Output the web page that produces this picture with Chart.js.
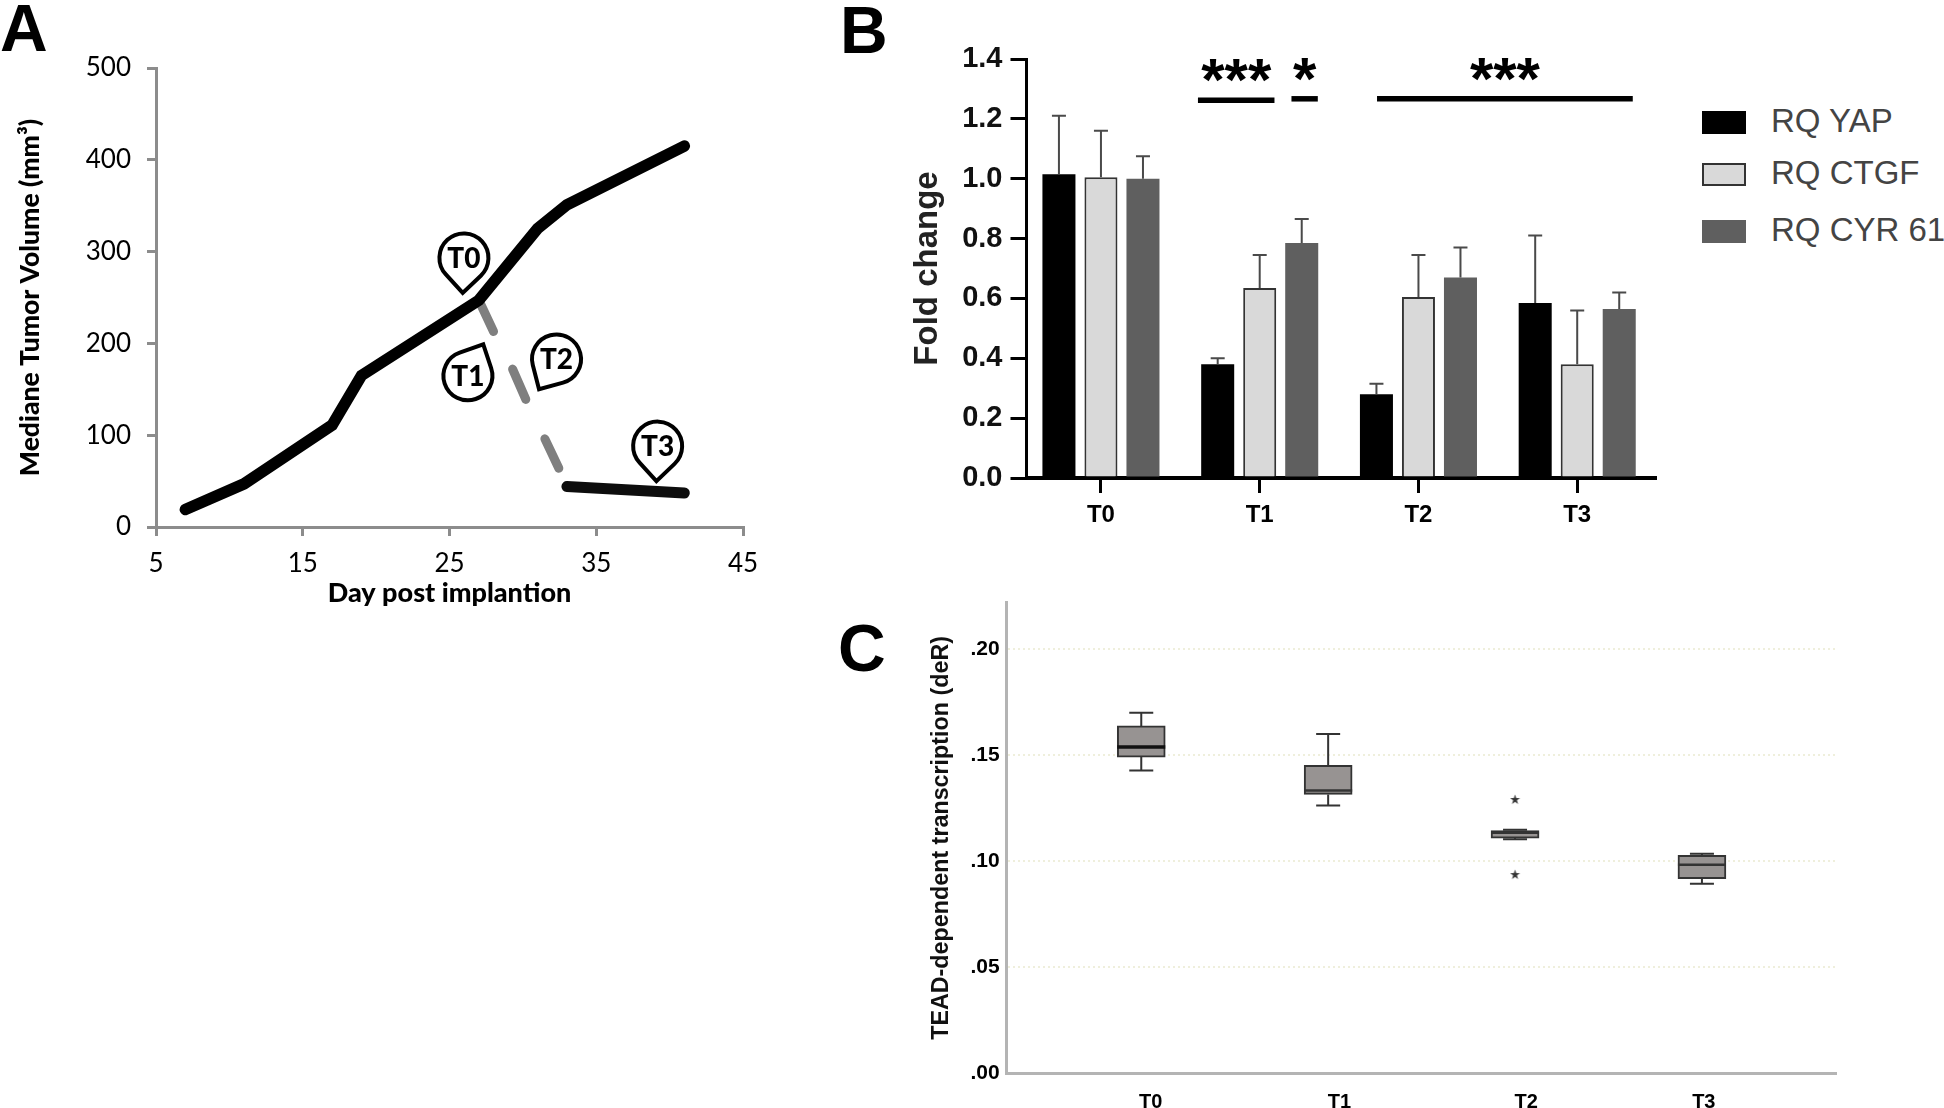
<!DOCTYPE html>
<html>
<head>
<meta charset="utf-8">
<title>Tumor volume and YAP/TEAD activity</title>
<script src="https://cdn.jsdelivr.net/npm/chart.js@4/dist/chart.umd.js"></script>
<style>
  body { margin: 0; background: #fff; width: 1944px; height: 1108px; overflow: hidden; position: relative; }
  canvas { position: absolute; }
  .panel { position: absolute; font: bold 66px "Liberation Sans"; line-height: 62px; color: #000; }
  .swatch { position: absolute; left: 1702px; width: 44px; height: 23px; box-sizing: border-box; }
  .legend-text { position: absolute; left: 1771px; font: 33px "Liberation Sans"; line-height: 32px; color: #444; white-space: nowrap; }
</style>
</head>
<body>
<div class="panel" style="left:0;top:-3px">A</div>
<div class="panel" style="left:840px;top:-1px">B</div>
<div class="panel" style="left:838px;top:617px">C</div>
<canvas id="chartA" width="800" height="620" style="left:0;top:0"></canvas>
<canvas id="chartB" width="860" height="540" style="left:820px;top:0"></canvas>
<canvas id="chartC" width="1040" height="548" style="left:820px;top:560px"></canvas>
<div id="legendB"></div>
<script>
//. Panel A data
const growthDays = [7, 11, 17, 19, 27, 31, 33, 41];
const growthVolume = [19, 47, 111, 165, 247, 325, 351, 415];
const treatedDays = [33, 41];
const treatedVolume = [44, 37];
const dashDays = [[27, 28], [29.3, 30.2], [31.5, 32.45]];
const dashVolume = [[247, 213], [172, 139], [96, 64]];
const pinLabels = ["T0", "T1", "T2", "T3"];
const pinDays = [25.9, 27.3, 31.1, 39.1];
const pinVolume = [255, 199, 150, 50];
const pinAngles = [92, -64, 120, 92];

//. Panel B data
const timeLabels = ["T0", "T1", "T2", "T3"];
const timeIndex = [0, 1, 2, 3];
const seriesNames = ["RQ YAP", "RQ CTGF", "RQ CYR 61"];
const yapValues = [1.015, 0.38, 0.28, 0.585];
const ctgfValues = [1.005, 0.635, 0.605, 0.38];
const cyrValues = [1.0, 0.785, 0.67, 0.565];
const yapUpper = [1.21, 0.4, 0.315, 0.81];
const ctgfUpper = [1.16, 0.745, 0.745, 0.56];
const cyrUpper = [1.075, 0.865, 0.77, 0.62];
const sigStart = [0.611, 1.2, 1.739];
const sigEnd = [1.093, 1.366, 3.35];
const sigLevel = [1.262, 1.267, 1.267];
const sigStars = ["***", "*", "***"];

//. Panel C data
const boxHigh = [0.17, 0.16, 0.1148, 0.1035];
const boxQ3 = [0.1638, 0.1452, 0.1145, 0.1028];
const boxMedian = [0.1539, 0.1334, 0.1134, 0.0983];
const boxQ1 = [0.1491, 0.1315, 0.1109, 0.0918];
const boxLow = [0.1428, 0.1263, 0.1104, 0.0894];
const outlierTime = [2, 2];
const outlierValues = [0.1291, 0.0937];
const boxLabelPlaces = [0.05, 1.06, 2.06, 3.01];

const colors = ["#000000", "#d9d9d9", "#5f5f5f"];
const axisGray = "#8c8c8c";
const sans = "Liberation Sans";

const zip = (xs, ys) => xs.map((x, i) => ({ x: x, y: ys[i] }));

//. Legend for panel B
const legendTops = [111, 163, 220];
seriesNames.forEach((name, i) => {
  const box = document.createElement("div");
  box.className = "swatch";
  box.style.top = legendTops[i] + "px";
  box.style.background = colors[i];
  if (i === 1) box.style.border = "2px solid #333";
  const label = document.createElement("div");
  label.className = "legend-text";
  label.style.top = legendTops[i] - 6 + "px";
  label.textContent = name;
  document.getElementById("legendB").append(box, label);
});

//. Teardrop markers on panel A
const pinPlugin = {
  id: "pins",
  afterDatasetsDraw(chart) {
    const { ctx, scales } = chart;
    const r = 24.5, d = 35;
    pinLabels.forEach((text, i) => {
      const tipX = scales.x.getPixelForValue(pinDays[i]);
      const tipY = scales.y.getPixelForValue(pinVolume[i]);
      // angle points from the head to the tip
      const a = (pinAngles[i] * Math.PI) / 180;
      const cx = tipX - d * Math.cos(a);
      const cy = tipY - d * Math.sin(a);
      const spread = Math.acos(r / d);
      ctx.save();
      ctx.beginPath();
      ctx.arc(cx, cy, r, a + spread, a - spread + 2 * Math.PI);
      ctx.lineTo(tipX, tipY);
      ctx.closePath();
      ctx.fillStyle = "#fff";
      ctx.fill();
      ctx.lineWidth = 4;
      ctx.strokeStyle = "#000";
      ctx.stroke();
      ctx.fillStyle = "#000";
      ctx.font = '900 28px "Lato"';
      ctx.textAlign = "center";
      ctx.textBaseline = "middle";
      ctx.fillText(text, cx, cy + 1);
      ctx.restore();
    });
  },
};

//. Error bars and significance lines on panel B
const uppers = [yapUpper, ctgfUpper, cyrUpper];
const errorPlugin = {
  id: "errors",
  afterDatasetsDraw(chart) {
    const { ctx, scales } = chart;
    ctx.save();
    ctx.strokeStyle = "#4a4a4a";
    ctx.lineWidth = 2;
    uppers.forEach((upper, s) => {
      chart.getDatasetMeta(s).data.forEach((bar, i) => {
        const top = scales.y.getPixelForValue(upper[i]);
        ctx.beginPath();
        ctx.moveTo(bar.x, bar.y);
        ctx.lineTo(bar.x, top);
        ctx.moveTo(bar.x - 7, top);
        ctx.lineTo(bar.x + 7, top);
        ctx.stroke();
      });
    });
    ctx.strokeStyle = "#000";
    ctx.fillStyle = "#000";
    ctx.lineWidth = 5.5;
    ctx.font = 'bold 60px "' + sans + '"';
    ctx.textAlign = "center";
    sigStars.forEach((stars, i) => {
      const y = scales.y.getPixelForValue(sigLevel[i]);
      const x0 = scales.x.getPixelForValue(sigStart[i]);
      const x1 = scales.x.getPixelForValue(sigEnd[i]);
      ctx.beginPath();
      ctx.moveTo(x0, y);
      ctx.lineTo(x1, y);
      ctx.stroke();
      ctx.fillText(stars, (x0 + x1) / 2, y);
    });
    ctx.restore();
  },
};

//. Whiskers and medians on panel C, the box itself is a floating bar
const whiskerPlugin = {
  id: "whiskers",
  afterDatasetsDraw(chart) {
    const { ctx, scales } = chart;
    const meta = chart.getDatasetMeta(0);
    ctx.save();
    ctx.strokeStyle = "#333";
    ctx.lineWidth = 2;
    meta.data.forEach((bar, i) => {
      const hi = scales.y.getPixelForValue(boxHigh[i]);
      const lo = scales.y.getPixelForValue(boxLow[i]);
      const q3 = scales.y.getPixelForValue(boxQ3[i]);
      const q1 = scales.y.getPixelForValue(boxQ1[i]);
      const med = scales.y.getPixelForValue(boxMedian[i]);
      ctx.lineWidth = 2;
      ctx.beginPath();
      ctx.moveTo(bar.x, hi);
      ctx.lineTo(bar.x, q3);
      ctx.moveTo(bar.x, q1);
      ctx.lineTo(bar.x, lo);
      ctx.moveTo(bar.x - 12, hi);
      ctx.lineTo(bar.x + 12, hi);
      ctx.moveTo(bar.x - 12, lo);
      ctx.lineTo(bar.x + 12, lo);
      ctx.stroke();
      ctx.lineWidth = i === 0 ? 3.5 : 2.5;
      ctx.strokeStyle = i === 0 ? "#111" : "#333";
      ctx.beginPath();
      ctx.moveTo(bar.x - 24, med);
      ctx.lineTo(bar.x + 24, med);
      ctx.stroke();
      ctx.strokeStyle = "#333";
    });
    ctx.restore();
  },
};

//. Small filled star for the outliers
function starImage() {
  const c = document.createElement("canvas");
  c.width = 11;
  c.height = 11;
  const g = c.getContext("2d");
  g.fillStyle = "#333";
  g.beginPath();
  for (let k = 0; k < 10; k++) {
    const rad = k % 2 ? 2 : 5.2;
    const a = -Math.PI / 2 + (k * Math.PI) / 5;
    g.lineTo(5.5 + rad * Math.cos(a), 5.7 + rad * Math.sin(a));
  }
  g.closePath();
  g.fill();
  return c;
}

const lineStyle = (color, width) => ({
  borderColor: color,
  borderWidth: width,
  borderCapStyle: "round",
  borderJoinStyle: "miter",
  pointRadius: 0,
  tension: 0,
  showLine: true,
});

//. Panel A
new Chart(document.getElementById("chartA"), {
  type: "scatter",
  data: {
    datasets: [
      { data: zip(growthDays, growthVolume), ...lineStyle("#000", 11.5) },
      { data: zip(treatedDays, treatedVolume), ...lineStyle("#0d0d0d", 11) },
      ...dashDays.map((days, i) => ({
        data: zip(days, dashVolume[i]),
        ...lineStyle("#7f7f7f", 9),
      })),
    ],
  },
  options: {
    responsive: false,
    animation: false,
    layout: { padding: { top: 68, right: 57 } },
    plugins: { legend: { display: false }, tooltip: { enabled: false } },
    scales: {
      x: {
        type: "linear",
        min: 5,
        max: 45,
        afterFit: (s) => { s.height = 93; },
        border: { color: axisGray, width: 3 },
        grid: { drawOnChartArea: false, color: axisGray, lineWidth: 3, tickLength: 9 },
        ticks: { stepSize: 10, color: "#000", padding: 12, font: { family: "Lato", size: 26 } },
        title: {
          display: true,
          text: "Day post implantion",
          color: "#000",
          padding: { bottom: 11 },
          font: { family: "Lato", size: 27, weight: "900" },
        },
      },
      y: {
        min: 0,
        max: 500,
        afterFit: (s) => { s.width = 156; },
        border: { color: axisGray, width: 3 },
        grid: { drawOnChartArea: false, color: axisGray, lineWidth: 3, tickLength: 9 },
        ticks: { stepSize: 100, color: "#000", padding: 16, font: { family: "Lato", size: 26 } },
        title: {
          display: true,
          text: "Mediane Tumor Volume (mm³)",
          color: "#000",
          padding: { top: 15 },
          font: { family: "Lato", size: 26.5, weight: "900" },
        },
      },
    },
  },
  plugins: [pinPlugin],
});

//. Panel B
new Chart(document.getElementById("chartB"), {
  type: "bar",
  data: {
    datasets: [yapValues, ctgfValues, cyrValues].map((values, i) => ({
      label: seriesNames[i],
      data: zip(timeIndex, values),
      backgroundColor: colors[i],
      borderColor: i === 1 ? "#333" : colors[i],
      borderWidth: i === 1 ? 2 : 0,
      categoryPercentage: 0.794,
      barPercentage: 0.786,
    })),
  },
  options: {
    responsive: false,
    animation: false,
    layout: { padding: { top: 59, right: 25 } },
    plugins: { legend: { display: false }, tooltip: { enabled: false } },
    scales: {
      x: {
        type: "linear",
        offset: false,
        min: -0.469,
        max: 3.49,
        afterBuildTicks: (s) => { s.ticks = timeIndex.map((v) => ({ value: v })); },
        afterFit: (s) => { s.height = 62; },
        border: { color: "#000", width: 4 },
        grid: { offset: false, drawOnChartArea: false, color: "#000", lineWidth: 3, tickLength: 15 },
        ticks: {
          color: "#000",
          padding: 8,
          maxRotation: 0,
          autoSkip: false,
          font: { family: sans, size: 24, weight: "bold" },
          callback: (v, i) => timeLabels[i],
        },
      },
      y: {
        min: 0,
        max: 1.4,
        afterFit: (s) => { s.width = 206.5; },
        border: { color: "#000", width: 3 },
        grid: { drawOnChartArea: false, color: "#000", lineWidth: 3, tickLength: 16 },
        ticks: {
          stepSize: 0.2,
          color: "#111",
          padding: 8,
          font: { family: sans, size: 29, weight: "bold" },
          callback: (v) => v.toFixed(1),
        },
        title: {
          display: true,
          text: "Fold change",
          color: "#222",
          padding: { top: 88 },
          font: { family: sans, size: 33, weight: "bold" },
        },
      },
    },
  },
  plugins: [errorPlugin],
});

//. Panel C
new Chart(document.getElementById("chartC"), {
  type: "bar",
  data: {
    datasets: [
      {
        data: timeIndex.map((t, i) => ({ x: t, y: [boxQ1[i], boxQ3[i]] })),
        backgroundColor: "#979392",
        borderColor: "#333",
        borderWidth: 2,
        borderSkipped: false,
        barThickness: 48,
      },
      {
        type: "scatter",
        data: zip(outlierTime, outlierValues),
        pointStyle: starImage(),
      },
    ],
  },
  options: {
    responsive: false,
    animation: false,
    layout: { padding: { top: 42.5, right: 23.5 } },
    plugins: { legend: { display: false }, tooltip: { enabled: false } },
    scales: {
      x: {
        type: "linear",
        offset: false,
        min: -0.72,
        max: 3.72,
        afterBuildTicks: (s) => { s.ticks = boxLabelPlaces.map((v) => ({ value: v })); },
        afterFit: (s) => { s.height = 34.7; },
        border: { color: "#b4b4b4", width: 3 },
        grid: { display: false, offset: false },
        ticks: {
          color: "#000",
          padding: 9,
          maxRotation: 0,
          autoSkip: false,
          font: { family: sans, size: 20, weight: "bold" },
          callback: (v, i) => timeLabels[i],
        },
      },
      y: {
        min: 0,
        max: 0.222,
        afterFit: (s) => { s.width = 186.7; },
        border: { color: "#b4b4b4", width: 3, dash: [2, 3] },
        grid: { color: "#efefdc", lineWidth: 2, drawTicks: false },
        ticks: {
          stepSize: 0.05,
          includeBounds: false,
          color: "#000",
          padding: 7,
          font: { family: sans, size: 21, weight: "bold" },
          callback: (v) => v.toFixed(2).replace("0.", "."),
        },
        title: {
          display: true,
          text: "TEAD-dependent transcription (deR)",
          color: "#111",
          padding: { top: 108 },
          font: { family: sans, size: 23.3, weight: "bold" },
        },
      },
    },
  },
  plugins: [whiskerPlugin],
});
</script>
</body>
</html>
